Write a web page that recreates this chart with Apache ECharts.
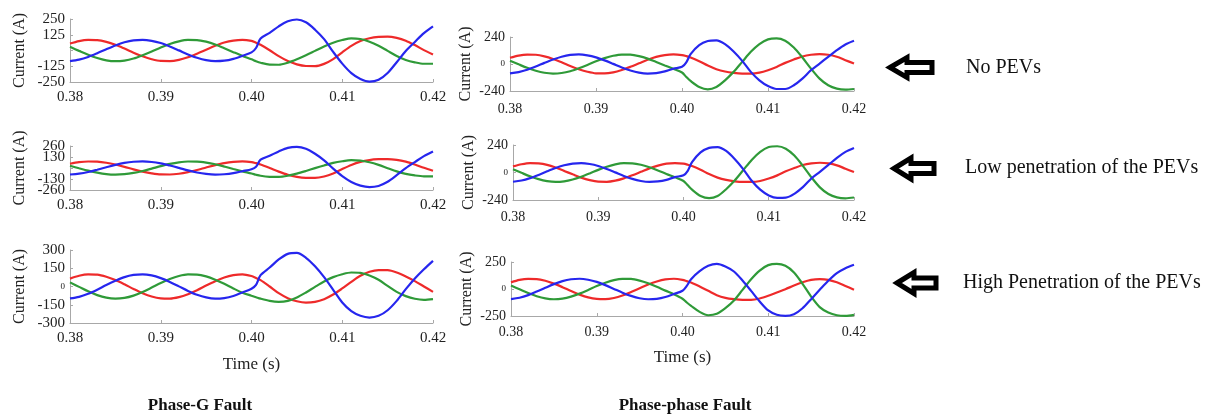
<!DOCTYPE html>
<html>
<head>
<meta charset="utf-8">
<script src="https://cdn.jsdelivr.net/npm/echarts@6/dist/echarts.min.js"></script>
<style>
  html, body { margin: 0; padding: 0; background: #fff; }
  #chart { width: 1212px; height: 419px; }
</style>
</head>
<body>
<div id="chart"></div>
<script>
// Sample instants (s); an extra sample sits just after the fault at 0.400 s
const time = [0.380, 0.381, 0.382, 0.383, 0.384, 0.385, 0.386, 0.387, 0.388, 0.389,
  0.390, 0.391, 0.392, 0.393, 0.394, 0.395, 0.396, 0.397, 0.398, 0.399,
  0.400, 0.4005, 0.401, 0.402, 0.403, 0.404, 0.405, 0.406, 0.407, 0.408, 0.409,
  0.410, 0.411, 0.412, 0.413, 0.414, 0.415, 0.416, 0.417, 0.418, 0.419, 0.420];

const timeTicks = ['0.38', '0.39', '0.40', '0.41', '0.42'];

// Phase-G fault, no PEVs (A)
const gNoneRed   = [55, 75, 84, 82, 68, 45, 15, -17, -46, -69, -83, -84, -74, -53, -25, 6, 37, 63, 79, 85,
  76, 62, 45, 2, -45, -84, -110, -123, -124, -106, -68, -14, 37, 75, 97, 108, 110, 100, 78, 43, 3, -32];
const gNoneBlue  = [-84, -72, -51, -22, 10, 40, 65, 81, 85, 77, 59, 32, 1, -31, -58, -77, -85, -81, -66, -42,
  -15, 20, 95, 140, 192, 232, 246, 224, 165, 90, -11, -104, -179, -226, -247, -233, -179, -93, -4, 68, 138, 192];
const gNoneGreen = [29, -3, -34, -60, -78, -85, -80, -64, -38, -8, 24, 52, 73, 84, 83, 70, 48, 18, -13, -43,
  -70, -85, -97, -112, -113, -97, -70, -38, -3, 32, 62, 83, 97, 91, 70, 38, -3, -43, -75, -94, -105, -105];

// Phase-G fault, low penetration of PEVs (A)
const gLowRed   = [50, 69, 77, 75, 62, 41, 14, -16, -42, -63, -76, -77, -68, -49, -23, 6, 34, 58, 73, 78,
  70, 57, 41, 0, -43, -80, -104, -116, -117, -100, -64, -12, 36, 72, 94, 104, 106, 97, 75, 41, 2, -32];
const gLowBlue  = [-77, -66, -47, -20, 9, 37, 60, 74, 78, 71, 54, 29, 1, -28, -53, -70, -78, -74, -61, -38,
  -14, 15, 98, 145, 196, 238, 250, 228, 168, 90, -8, -96, -165, -208, -225, -212, -163, -85, -2, 70, 140, 195];
const gLowGreen = [26, -3, -31, -55, -72, -78, -73, -58, -35, -7, 22, 48, 67, 77, 76, 64, 44, 17, -12, -40,
  -65, -80, -92, -104, -106, -92, -66, -35, -2, 30, 60, 80, 92, 88, 68, 37, -2, -40, -70, -88, -98, -98];

// Phase-G fault, high penetration of PEVs (A)
const gHighRed   = [65, 88, 99, 97, 80, 53, 18, -20, -55, -82, -97, -99, -87, -63, -30, 8, 44, 74, 93, 100,
  86, 70, 52, 0, -55, -96, -121, -132, -126, -104, -66, -16, 38, 88, 121, 135, 134, 115, 82, 44, 0, -44];
const gHighBlue  = [-98, -85, -60, -26, 12, 47, 77, 95, 100, 91, 69, 38, 1, -36, -68, -90, -100, -95, -78, -49,
  -18, 14, 93, 156, 222, 268, 276, 236, 166, 77, -27, -132, -203, -241, -255, -241, -195, -118, -22, 66, 142, 211];
const gHighGreen = [34, -3, -40, -71, -92, -100, -94, -75, -45, -9, 28, 61, 86, 99, 98, 83, 56, 22, -16, -51,
  -76, -88, -100, -118, -126, -118, -90, -49, -3, 41, 77, 101, 115, 112, 90, 55, 5, -44, -79, -101, -110, -104];

// Phase-phase fault, no PEVs (A)
const ppNoneRed   = [55, 75, 84, 82, 68, 45, 15, -17, -46, -69, -83, -84, -74, -53, -25, 6, 37, 63, 79, 85,
  79, 70, 58, 25, -14, -46, -67, -79, -85, -85, -76, -55, -26, 10, 40, 67, 82, 88, 82, 64, 34, 4];
const ppNoneBlue  = [-84, -72, -51, -22, 10, 40, 65, 81, 85, 77, 59, 32, 1, -31, -58, -77, -85, -81, -66, -42,
  -25, 15, 88, 168, 204, 210, 177, 111, 28, -70, -145, -196, -222, -222, -189, -130, -55, 4, 64, 123, 174, 207];
const ppNoneGreen = [29, -3, -34, -60, -78, -85, -80, -64, -38, -8, 24, 52, 73, 84, 83, 70, 48, 18, -13, -43,
  -76, -115, -151, -204, -225, -204, -145, -70, 19, 108, 177, 219, 228, 207, 147, 58, -41, -130, -189, -219, -228, -222];

// Phase-phase fault, low penetration of PEVs (A)
const ppLowRed   = [53, 72, 82, 79, 66, 43, 14, -16, -45, -67, -80, -81, -71, -51, -24, 6, 36, 60, 77, 82,
  77, 68, 56, 24, -14, -45, -65, -77, -82, -82, -74, -53, -25, 10, 39, 65, 79, 85, 79, 62, 33, 4];
const ppLowBlue  = [-81, -70, -49, -21, 10, 39, 63, 78, 82, 74, 57, 31, 1, -30, -56, -74, -82, -78, -64, -40,
  -24, 15, 90, 175, 215, 222, 188, 118, 30, -72, -150, -200, -222, -220, -186, -128, -52, 6, 66, 128, 180, 214];
const ppLowGreen = [28, -3, -33, -58, -75, -82, -77, -61, -37, -8, 23, 50, 71, 81, 80, 68, 46, 18, -13, -42,
  -74, -112, -150, -205, -224, -205, -146, -70, 20, 110, 180, 222, 229, 208, 148, 58, -42, -130, -188, -217, -225, -218];

// Phase-phase fault, high penetration of PEVs (A)
const ppHighRed   = [61, 84, 94, 92, 76, 50, 17, -19, -52, -78, -92, -94, -83, -60, -28, 7, 42, 70, 89, 95,
  85, 73, 60, 23, -17, -57, -82, -94, -100, -100, -88, -63, -32, -2, 32, 62, 84, 91, 85, 62, 28, -6];
const ppHighBlue  = [-93, -81, -57, -24, 11, 45, 73, 90, 95, 86, 66, 36, 1, -34, -64, -86, -95, -91, -74, -46,
  -16, 29, 91, 165, 215, 233, 209, 162, 79, -17, -116, -199, -239, -249, -233, -178, -94, -8, 76, 147, 193, 224];
const ppHighGreen = [32, -3, -38, -67, -87, -95, -89, -71, -43, -9, 27, 58, 82, 94, 93, 78, 53, 21, -15, -49,
  -90, -125, -156, -212, -243, -230, -178, -107, -8, 91, 171, 221, 233, 215, 153, 48, -70, -168, -218, -243, -249, -239];

// Y tick values and the text shown at each of them (bottom to top)
const gNoneTicks  = [-250, -125, 0, 125, 250];
const gNoneLabels = ['-250', '-125', '', '125', '250'];
const gLowTicks   = [-260, -130, 0, 130, 260];
const gLowLabels  = ['-260', '-130', '', '130', '260'];
const gHighTicks  = [-300, -150, 0, 150, 300];
const gHighLabels = ['-300', '-150', '0', '150', '300'];
const ppNoneTicks  = [-240, 0, 240];
const ppNoneLabels = ['-240', '0', '240'];
const ppLowTicks   = [-240, 0, 240];
const ppLowLabels  = ['-240', '0', '240'];
const ppHighTicks  = [-250, 0, 250];
const ppHighLabels = ['-250', '0', '250'];

const rowNotes = ['No PEVs', 'Low penetration of the PEVs', 'High Penetration of the PEVs'];
const columnTitles = ['Phase-G Fault', 'Phase-phase Fault'];

const SERIF = '"Liberation Serif", "Times New Roman", serif';
const RED = '#ee2a2a', GREEN = '#2f9a38', BLUE = '#2626ee';

// crowded: the tick labels sit closer than their own height, so they are split over two
// overlaid axes (even / odd ticks) to keep ECharts from dropping any of them
const panels = [
  { red: gNoneRed, green: gNoneGreen, blue: gNoneBlue, ticks: gNoneTicks, labels: gNoneLabels,
    box: { left: 70, top: 19, width: 363, height: 63 }, yFont: 15, xFont: 15, xMargin: 8, yNameGap: 42, time: false },
  { red: gLowRed, green: gLowGreen, blue: gLowBlue, ticks: gLowTicks, labels: gLowLabels, crowded: true,
    box: { left: 70, top: 146, width: 363, height: 44 }, yFont: 15, xFont: 15, xMargin: 8, yNameGap: 42, time: false },
  { red: gHighRed, green: gHighGreen, blue: gHighBlue, ticks: gHighTicks, labels: gHighLabels,
    box: { left: 70, top: 250, width: 363, height: 73 }, yFont: 15, xFont: 15, xMargin: 8, yNameGap: 42, time: true },
  { red: ppNoneRed, green: ppNoneGreen, blue: ppNoneBlue, ticks: ppNoneTicks, labels: ppNoneLabels,
    box: { left: 510, top: 37, width: 344, height: 54 }, yFont: 14, xFont: 14, xMargin: 11, yNameGap: 36, time: false },
  { red: ppLowRed, green: ppLowGreen, blue: ppLowBlue, ticks: ppLowTicks, labels: ppLowLabels,
    box: { left: 513, top: 145, width: 341, height: 55 }, yFont: 14, xFont: 14, xMargin: 10, yNameGap: 36, time: false },
  { red: ppHighRed, green: ppHighGreen, blue: ppHighBlue, ticks: ppHighTicks, labels: ppHighLabels,
    box: { left: 511, top: 262, width: 343, height: 54 }, yFont: 14, xFont: 14, xMargin: 9, yNameGap: 36, time: true }
];

const axisGray = '#a8a8a8';
const grids = [], xAxes = [], yAxes = [], extraYAxes = [], series = [];

function yLabelStyle(p, pick) {
  return {
    fontFamily: SERIF, fontSize: p.yFont, color: '#222', margin: 5,
    showMinLabel: true, showMaxLabel: true, hideOverlap: false,
    formatter: (v, i) => {
      if (!pick(i)) return '';
      const s = p.labels[i];
      return s === '0' ? '{z|0}' : s;
    },
    rich: { z: { fontFamily: SERIF, fontSize: 9, color: '#222' } }
  };
}

panels.forEach((p, k) => {
  grids.push(Object.assign({ containLabel: false }, p.box));
  xAxes.push({
    type: 'value', gridIndex: k,
    min: 0.38, max: 0.42, interval: 0.01,
    name: p.time ? 'Time (s)' : '', nameLocation: 'middle', nameGap: 33,
    nameTextStyle: { fontFamily: SERIF, fontSize: 17, color: '#222' },
    axisLine: { show: true, onZero: false, lineStyle: { color: axisGray, width: 1 } },
    axisTick: { show: true, inside: true, length: 3, lineStyle: { color: axisGray } },
    splitLine: { show: false },
    axisLabel: { fontFamily: SERIF, fontSize: p.xFont, color: '#222', margin: p.xMargin,
      showMinLabel: true, showMaxLabel: true, hideOverlap: false,
      formatter: (v, i) => timeTicks[i] }
  });
  const yBase = {
    type: 'value', gridIndex: k, position: 'left', offset: 0,
    min: p.ticks[0], max: p.ticks[p.ticks.length - 1], interval: p.ticks[1] - p.ticks[0],
    splitLine: { show: false }
  };
  yAxes.push(Object.assign({}, yBase, {
    name: 'Current (A)', nameLocation: 'middle', nameGap: p.yNameGap, nameRotate: 90,
    nameTextStyle: { fontFamily: SERIF, fontSize: 16, color: '#222' },
    axisLine: { show: true, onZero: false, lineStyle: { color: axisGray, width: 1 } },
    axisTick: { show: true, inside: true, length: 3, lineStyle: { color: axisGray } },
    axisLabel: yLabelStyle(p, i => !p.crowded || i % 2 === 0)
  }));
  if (p.crowded) {
    extraYAxes.push(Object.assign({}, yBase, {
      axisLine: { show: false, onZero: false },
      axisTick: { show: false },
      axisLabel: yLabelStyle(p, i => i % 2 === 1)
    }));
  }
  [[p.red, RED], [p.green, GREEN], [p.blue, BLUE]].forEach(([vals, color]) => {
    series.push({
      type: 'line', xAxisIndex: k, yAxisIndex: k,
      data: time.map((t, i) => [t, vals[i]]),
      showSymbol: false, smooth: 0.3,
      lineStyle: { color: color, width: 2.2 },
      itemStyle: { color: color },
      silent: true
    });
  });
});

// Hollow block arrow pointing left, tip at (x, y)
function arrow(x, y, len, head, halfH, halfS) {
  return {
    type: 'polygon',
    shape: { points: [[x, y], [x + head, y - halfH], [x + head, y - halfS], [x + len, y - halfS],
      [x + len, y + halfS], [x + head, y + halfS], [x + head, y + halfH]] },
    style: { fill: '#fff', stroke: '#000', lineWidth: 5, lineJoin: 'miter' }
  };
}

const noteText = (txt, x, y) => ({
  type: 'text', x: x, y: y,
  style: { text: txt, fontFamily: SERIF, fontSize: 20, fill: '#111', textVerticalAlign: 'middle', verticalAlign: 'middle' }
});
const titleText = (txt, x, y) => ({
  type: 'text', x: x, y: y,
  style: { text: txt, fontFamily: SERIF, fontSize: 17, fontWeight: 'bold', fill: '#111',
    textAlign: 'center', align: 'center', verticalAlign: 'middle', textVerticalAlign: 'middle' }
});

const graphic = [
  arrow(890, 67.5, 42, 17, 10, 5),
  arrow(894, 168.5, 40, 17, 10.5, 5),
  arrow(897, 283, 39, 17, 10.5, 5),
  noteText(rowNotes[0], 966, 68),
  noteText(rowNotes[1], 965, 168),
  noteText(rowNotes[2], 963, 283),
  titleText(columnTitles[0], 200, 406),
  titleText(columnTitles[1], 685, 406)
];

const chart = echarts.init(document.getElementById('chart'), null, { renderer: 'canvas' });
chart.setOption({
  animation: false,
  backgroundColor: '#fff',
  grid: grids, xAxis: xAxes, yAxis: yAxes.concat(extraYAxes), series: series,
  graphic: graphic
});
</script>
</body>
</html>
